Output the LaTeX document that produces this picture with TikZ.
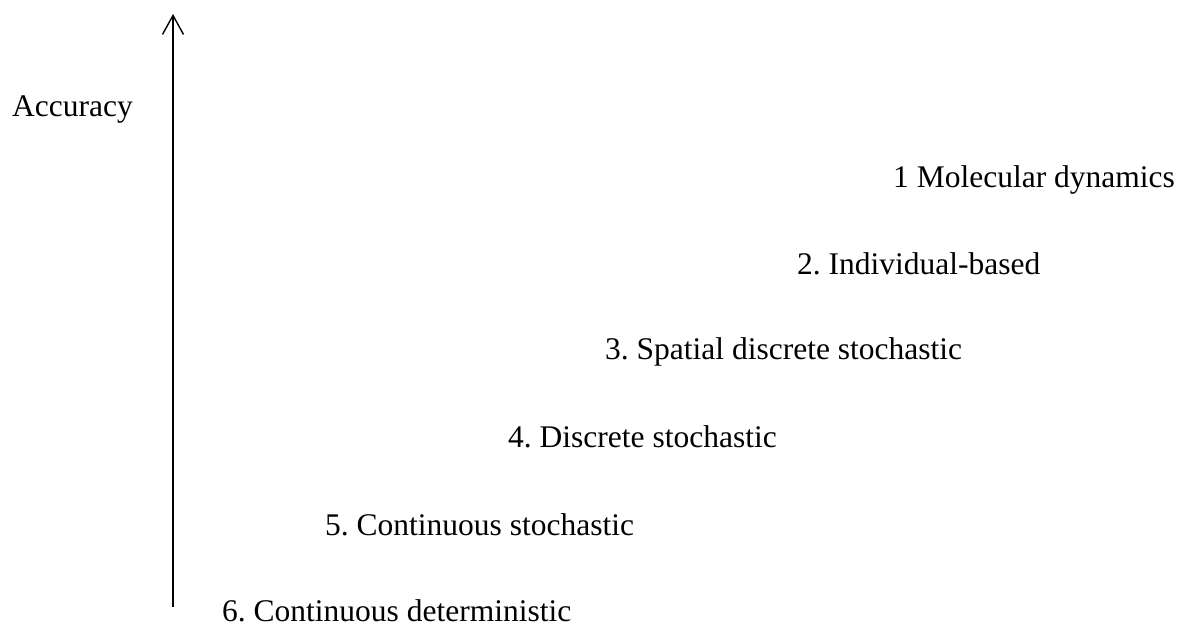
\documentclass[tikz,border=0pt]{standalone}
\usepackage{fontspec}
\setmainfont{Liberation Serif}
\usetikzlibrary{arrows.meta}
\frenchspacing
\begin{document}
\begin{tikzpicture}[x=1pt,y=-1pt,
  lbl/.style={anchor=base west,inner sep=0pt,font=\fontsize{31.5}{38}\selectfont},
  axis/.style={line width=1.4pt,-{Straight Barb[length=19pt,width=21pt,line width=1.4pt]}}]
\useasboundingbox (0,0) rectangle (1182,623);
\coordinate (bot) at (173,607);
\coordinate (top) at (173,14);
\draw[axis] (bot) -- (top);
\node[lbl] (acc) at (12,117) {Accuracy};
\node[lbl] (m1) at (893,187) {1 Molecular dynamics};
\node[lbl] (m2) at (797,274) {2. Individual-based};
\node[lbl] (m3) at (605,359) {3. Spatial discrete stochastic};
\node[lbl] (m4) at (508,447) {4. Discrete stochastic};
\node[lbl] (m5) at (325,535) {5. Continuous stochastic};
\node[lbl] (m6) at (222,621) {6. Continuous deterministic};
\end{tikzpicture}
\end{document}
